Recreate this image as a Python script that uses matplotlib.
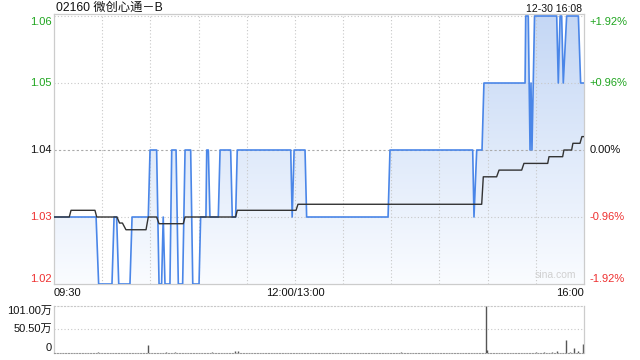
import matplotlib
matplotlib.use("Agg")
import matplotlib.pyplot as plt
import numpy as np
from matplotlib.colors import LinearSegmentedColormap
from matplotlib.patches import PathPatch

plt.rcParams['font.family'] = ['Liberation Sans', 'Noto Sans CJK SC', 'DejaVu Sans']

# ---- data (minutes since 09:30, lunch removed; 330 = 16:00) ----
title = "02160 微创心通－B"
stamp = "12-30 16:08"
prev_close = 1.04

price_t = [0, 26.2, 27.8, 36.1, 37.4, 39.0, 40.3, 47.3, 48.6, 58.7, 59.8, 63.9, 65.4, 67.0,
           68.0, 69.1, 72.2, 73.3, 76.0, 77.4, 80.1, 81.6, 85.1, 86.4, 90.3, 91.3, 94.6, 95.1,
           96.1, 97.1, 102.3, 103.4, 110.0, 111.0, 113.1, 114.1, 147.4, 148.3, 149.5, 156.3,
           157.3, 208.0, 209.2, 260.7, 261.5, 263.2, 266.5, 267.7, 293.3, 293.7, 295.3, 296.4,
           297.0, 297.6, 299.2, 313.0, 314.0, 315.1, 316.1, 317.1, 319.2, 326.5, 327.9, 330.0]
price_v = [1.03, 1.03, 1.02, 1.02, 1.03, 1.03, 1.02, 1.02, 1.03, 1.03, 1.04, 1.04, 1.02, 1.02,
           1.03, 1.02, 1.02, 1.04, 1.04, 1.02, 1.02, 1.04, 1.04, 1.02, 1.02, 1.03, 1.03, 1.04,
           1.04, 1.03, 1.03, 1.04, 1.04, 1.03, 1.03, 1.04, 1.04, 1.03, 1.04, 1.04,
           1.03, 1.03, 1.04, 1.04, 1.03, 1.04, 1.04, 1.05, 1.05, 1.06, 1.06, 1.04,
           1.05, 1.04, 1.06, 1.06, 1.05, 1.06, 1.06, 1.05, 1.06, 1.06, 1.05, 1.05]

avg_t = [0, 9.5, 10.6, 25.5, 26.6, 39.2, 40.8, 42.6, 44.8, 57.3, 58.7, 63.9, 65.4, 80.5, 81.6,
         113.1, 114.1, 150.7, 151.9, 266.3, 267.3, 275.6, 277.1, 291.2, 292.6, 307.4, 308.2,
         316.7, 317.5, 322.3, 323.1, 327.5, 328.7, 330.0]
avg_v = [1.030, 1.030, 1.031, 1.031, 1.030, 1.030, 1.0291, 1.0291, 1.0281, 1.0281, 1.030, 1.030,
         1.029, 1.029, 1.030, 1.030, 1.031, 1.031, 1.0319, 1.0319, 1.036, 1.036, 1.037, 1.037,
         1.038, 1.038, 1.039, 1.039, 1.040, 1.040, 1.041, 1.041, 1.042, 1.042]

vol_t = [27.2, 58.7, 69.5, 75.3, 98.2, 112.7, 114.6, 216.0, 268.8, 269.4, 300.0, 305.0,
         310.0, 313.0, 318.6, 321.0, 324.0, 326.0, 329.5]
vol_v = [3, 17, 3, 2, 2, 4, 5, 3, 101, 7, 3, 2, 3, 4, 28, 3, 11, 5, 19]  # 万

y_ticks = [1.06, 1.05, 1.04, 1.03, 1.02]
pct_labels = ["+1.92%", "+0.96%", "0.00%", "-0.96%", "-1.92%"]
x_labels = ["09:30", "12:00/13:00", "16:00"]
vol_labels = ["101.00万", "50.50万", "0"]

green = "#1fa51f"
red = "#ee3030"
grid_c = "#c8c8c8"
spine_c = "#cccccc"

fig = plt.figure(figsize=(6.4, 3.6), dpi=100)
ax = fig.add_axes([54/640, (360-284)/360, 530/640, 270/360])
ymax = 1.0603
ax.set_xlim(0, 330)
ax.set_ylim(1.02, ymax)

# gradient fill under price line
coll = ax.fill_between(price_t, price_v, 1.02, color='none', lw=0)
path = coll.get_paths()[0]
patch = PathPatch(path, transform=ax.transData, facecolor='none', edgecolor='none')
ax.add_patch(patch)
cmap = LinearSegmentedColormap.from_list('g', ['#fafcff', '#c4d7f5'])
grad = np.linspace(0, 1, 256).reshape(-1, 1)
im = ax.imshow(grad, extent=[0, 330, 1.02, ymax], origin='lower', aspect='auto',
               cmap=cmap, zorder=1)
im.set_clip_path(patch)
ax.set_xlim(0, 330)
ax.set_ylim(1.02, ymax)

# grid
for m in range(30, 330, 30):
    ax.axvline(m, color=grid_c, lw=0.8, ls=(0, (1, 2)), zorder=2)
for y in [1.03, 1.05, 1.06]:
    ax.axhline(y, color=grid_c, lw=0.8, ls=(0, (1, 2)), zorder=2)
ax.axhline(prev_close, color='#aaaaaa', lw=0.8, ls=(0, (2, 2)), zorder=2)

ax.plot(price_t, price_v, color='#4a86e8', lw=1.2, zorder=4)
ax.plot(avg_t, avg_v, color='#333333', lw=1.0, zorder=5)

ax.set_xticks([])
ax.set_yticks([])
for s in ax.spines.values():
    s.set_color(spine_c)
    s.set_linewidth(0.9)

tr = ax.get_yaxis_transform()
for y, pl in zip(y_ticks, pct_labels):
    c = green if y > prev_close else (red if y < prev_close else '#111111')
    va = 'top' if y == 1.06 else ('bottom' if y == 1.02 else 'center')
    yy = y - 0.0001 if y == 1.06 else y
    ax.text(-0.004, yy, f"{y:.2f}", transform=tr, ha='right', va=va, color=c, fontsize=8)
    ax.text(1.011, yy, pl, transform=tr, ha='left', va=va, color=c, fontsize=8)

ax.text(0.003, 1.0, title, transform=ax.transAxes, ha='left', va='bottom',
        fontsize=8.8, color='#111111')
ax.text(0.997, 1.0, stamp, transform=ax.transAxes, ha='right', va='bottom',
        fontsize=7.6, color='#111111')
ax.text(0.985, 0.015, "sina.com", transform=ax.transAxes, ha='right', va='bottom',
        fontsize=7.5, color='#d0d0d0')

# x labels
xl_y = -0.015
ax.text(0, xl_y, x_labels[0], transform=ax.transAxes, ha='left', va='top', fontsize=8, color='#111111')
ax.text(150/330, xl_y, x_labels[1], transform=ax.transAxes, ha='center', va='top', fontsize=8, color='#111111')
ax.text(1.0, xl_y, x_labels[2], transform=ax.transAxes, ha='right', va='top', fontsize=8, color='#111111')

# volume panel
vx = fig.add_axes([54/640, 7/360, 530/640, 47.3/360])
vx.set_xlim(0, 330)
vx.set_ylim(0, 101)
vx.vlines(vol_t, 0, vol_v, color='#555555', lw=1.0)
vx.axhline(50.5, color=grid_c, lw=0.8, ls=(0, (1, 2)))
vx.set_xticks([])
vx.set_yticks([])
for k in ['left', 'right']:
    vx.spines[k].set_color(spine_c)
    vx.spines[k].set_linewidth(0.9)
vx.spines['top'].set_color(grid_c)
vx.spines['top'].set_linestyle((0, (1, 2)))
vx.spines['top'].set_linewidth(0.8)
vx.spines['bottom'].set_color('#999999')
vx.spines['bottom'].set_linestyle((0, (1, 1.5)))
vx.spines['bottom'].set_linewidth(0.8)
vtr = vx.get_yaxis_transform()
vx.text(-0.004, 101, vol_labels[0], transform=vtr, ha='right', va='top', fontsize=8, color='#111111')
vx.text(-0.004, 50.5, vol_labels[1], transform=vtr, ha='right', va='center', fontsize=8, color='#111111')
vx.text(-0.004, 0, vol_labels[2], transform=vtr, ha='right', va='bottom', fontsize=8, color='#111111')

fig.savefig("out.png", dpi=100)
